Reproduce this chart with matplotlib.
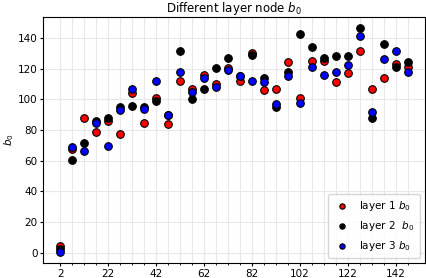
import matplotlib
matplotlib.use("Agg")
import matplotlib.pyplot as plt
from matplotlib.ticker import MultipleLocator, FixedLocator

x = list(range(2, 150, 5))
layer1 = [4.5, 67.8, 87.9, 78.9, 86.0, 77.6, 104.3, 84.7, 101.0, 84.0,
          111.9, 106.5, 116.0, 110.2, 120.8, 111.9, 130.5, 106.1, 106.9, 124.2,
          100.7, 125.1, 124.8, 111.5, 117.1, 131.3, 106.9, 113.8, 123.4, 121.2]
layer2 = [2.5, 60.7, 71.8, 86.1, 88.0, 95.3, 95.7, 95.3, 98.9, 89.6,
          131.3, 100.0, 106.7, 120.3, 126.8, 115.6, 129.0, 113.8, 95.3, 118.2,
          143.0, 134.2, 127.0, 128.3, 128.3, 146.5, 87.9, 135.9, 121.2, 124.6]
layer3 = [0.6, 69.2, 66.5, 84.8, 69.8, 93.2, 106.9, 93.8, 111.9, 89.9,
          117.7, 104.6, 113.9, 108.2, 119.2, 115.4, 111.9, 111.5, 96.8, 115.4,
          97.9, 121.0, 116.0, 118.0, 122.5, 141.1, 92.0, 126.2, 131.6, 118.0]

fig = plt.figure(figsize=(4.26, 2.78), dpi=100)
ax = fig.add_axes([0.101, 0.054, 0.897, 0.885])

ax.scatter(x, layer1, s=30, c='#ff0000', edgecolors='black', linewidths=0.8, label='layer 1 $b_0$', zorder=3)
ax.scatter(x, layer2, s=30, c='black', edgecolors='black', linewidths=0.8, label='layer 2  $b_0$', zorder=3)
ax.scatter(x, layer3, s=30, c='#0000ff', edgecolors='black', linewidths=0.8, label='layer 3 $b_0$', zorder=3)

ax.xaxis.set_major_locator(FixedLocator(list(range(2, 150, 20))))
ax.xaxis.set_minor_locator(FixedLocator(list(range(2, 150, 5))))
ax.yaxis.set_major_locator(MultipleLocator(20))
ax.grid(True, which='major', color='#e8e8e8', linewidth=0.8, zorder=0)
ax.grid(True, which='minor', axis='x', color='#e8e8e8', linewidth=0.8, zorder=0)
ax.set_axisbelow(True)
ax.tick_params(labelsize=7.5, length=2.5, width=0.8, pad=1.5)
ax.tick_params(which='minor', length=1.6, width=0.6)

ax.set_title('Different layer node $b_0$', fontsize=8.5, pad=3)
ax.set_ylabel('$b_0$', fontsize=7.5, labelpad=1)
ax.legend(loc='lower right', fontsize=7.5, markerscale=0.7, borderpad=0.5, labelspacing=0.55,
          handletextpad=0.9, handlelength=1.6, framealpha=0.8)

fig.savefig('out.png', dpi=100)
